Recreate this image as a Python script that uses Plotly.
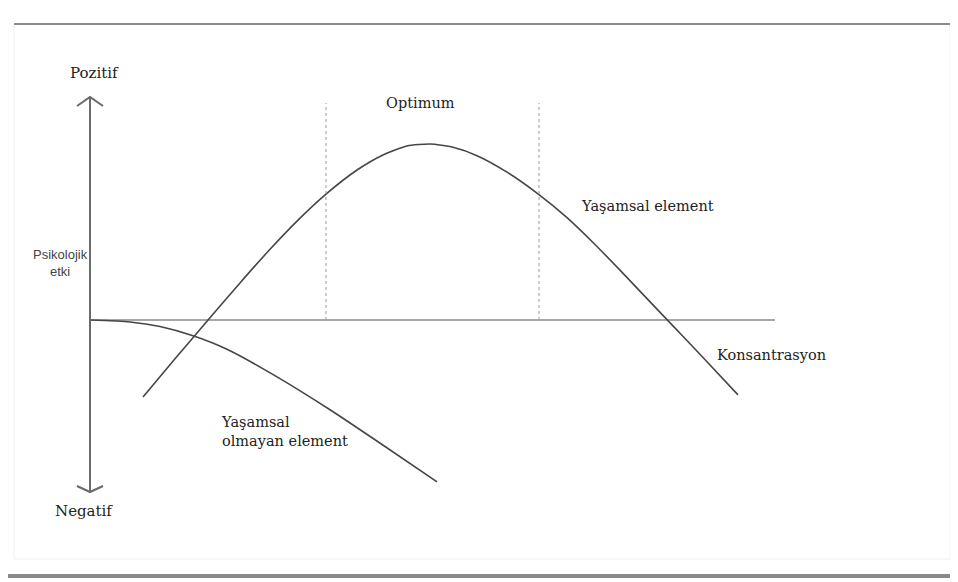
import plotly.graph_objects as go

# ---------------- data (concept diagram, arbitrary units) ----------------
# Vital element ("Yaşamsal element"): concentration vs. physiological effect
vital_conc = [0.774, 1.241, 1.723, 2.190, 2.628, 3.022, 3.445, 3.898, 4.277, 4.628, 4.964,
              5.299, 5.650, 6.088, 6.540, 6.964, 7.343, 7.737, 8.423, 8.949, 9.460]
vital_effect = [-0.44, -0.222, 0.0, 0.212, 0.404, 0.565, 0.719, 0.857, 0.943, 0.994, 1.006,
                0.987, 0.939, 0.845, 0.721, 0.585, 0.443, 0.285, 0.002, -0.214, -0.428]

# Non-vital element ("Yaşamsal olmayan element")
nonvital_conc = [0.0, 0.584, 1.022, 1.504, 2.0, 2.730, 3.504, 4.307, 5.066]
nonvital_effect = [0.0, -0.011, -0.037, -0.090, -0.167, -0.325, -0.513, -0.723, -0.925]

# Optimum window boundaries (concentration)
optimum_bounds = [3.445, 6.555]
optimum_top = 1.24

# Axis extents
conc_axis_end = 10.0
effect_axis_top = 1.274
effect_axis_bottom = -0.983

labels = {
    "pos": "Pozitif",
    "neg": "Negatif",
    "ylab": "Psikolojik<br>etki",
    "opt": "Optimum",
    "vital": "Yaşamsal element",
    "xlab": "Konsantrasyon",
    "nonvital": "Yaşamsal<br>olmayan element",
}

# ---------------- layout geometry ----------------
# The page body has an 8 px margin, so the figure is shifted by OFF px.
OFF = 8
W, H = 958 - OFF, 582 - OFF
OX, OY = 90, 320          # pixel of origin (page coords)
SX, SY = 68.5, 175.0      # pixels per unit


def px2x(p):
    return (p - OX) / SX


def py2y(p):
    return (OY - p) / SY


fig = go.Figure()

# horizontal concentration axis
fig.add_trace(go.Scatter(x=[0, conc_axis_end], y=[0, 0], mode="lines",
                         line=dict(color="#a8a8a8", width=2), hoverinfo="skip", showlegend=False))

curve_color = "#464646"
for xs, ys in ((vital_conc, vital_effect), (nonvital_conc, nonvital_effect)):
    fig.add_trace(go.Scatter(x=xs, y=ys, mode="lines",
                             line=dict(color=curve_color, width=1.6, shape="spline", smoothing=0.6),
                             hoverinfo="skip", showlegend=False))

# vertical double arrow
wing_dx = 13 / SX
top_wing = effect_axis_top - 9 / SY
bot_wing = effect_axis_bottom + 6 / SY
ax_x = [0, 0, None, -wing_dx, 0, wing_dx, None, -wing_dx, 0, wing_dx]
ax_y = [effect_axis_top, effect_axis_bottom, None,
        top_wing, effect_axis_top, top_wing, None,
        bot_wing, effect_axis_bottom, bot_wing]
fig.add_trace(go.Scatter(x=ax_x, y=ax_y, mode="lines",
                         line=dict(color="#6a6a6a", width=2), hoverinfo="skip", showlegend=False))

# dotted optimum boundaries
for b in optimum_bounds:
    fig.add_trace(go.Scatter(x=[b, b], y=[0, optimum_top], mode="lines",
                             line=dict(color="#9a9a9a", width=1, dash="dot"),
                             hoverinfo="skip", showlegend=False))

serif = "DejaVu Serif, Liberation Serif, serif"
txt_color = "#222222"


def label(text, px, py, size=14.5, xanchor="center", family=serif, color=txt_color, align="center"):
    fig.add_annotation(x=px2x(px), y=py2y(py), text=text, showarrow=False,
                       xanchor=xanchor, yanchor="middle", align=align,
                       font=dict(family=family, size=size, color=color))


label(labels["pos"], 94, 73, size=15)
label(labels["neg"], 84, 511, size=15)
label(labels["ylab"], 60, 263, size=13,
      family="Liberation Sans Narrow, Liberation Sans, Arial, sans-serif", color="#444")
label(labels["opt"], 420, 103)
label(labels["vital"], 647, 206)
label(labels["xlab"], 771, 355)
label(labels["nonvital"], 219, 431, xanchor="left", align="left")

# ---------------- frame decoration (paper coords, page pixels) ----------------
def fx(p):
    return (p - OFF) / W


def fy(p):
    return 1 - (p - OFF) / H


shapes = [
    dict(type="rect", xref="paper", yref="paper", x0=fx(14), x1=fx(950), y0=fy(24), y1=fy(559),
         line=dict(color="#efefef", width=1)),
    dict(type="line", xref="paper", yref="paper", x0=fx(953), x1=fx(953), y0=fy(10), y1=fy(574),
         line=dict(color="#e4e4e4", width=1)),
    dict(type="line", xref="paper", yref="paper", x0=fx(8), x1=fx(958), y0=fy(576), y1=fy(576),
         line=dict(color="#8a8a8a", width=4)),
    dict(type="line", xref="paper", yref="paper", x0=fx(14), x1=fx(950), y0=fy(24), y1=fy(24),
         line=dict(color="#8c8c8c", width=2)),
]

fig.update_layout(
    width=W, height=H,
    margin=dict(l=0, r=0, t=0, b=0),
    paper_bgcolor="white", plot_bgcolor="white",
    xaxis=dict(range=[px2x(OFF), px2x(OFF + W)], visible=False, fixedrange=True),
    yaxis=dict(range=[py2y(OFF + H), py2y(OFF)], visible=False, fixedrange=True),
    shapes=shapes,
    showlegend=False,
)

fig.write_html("out.html")
